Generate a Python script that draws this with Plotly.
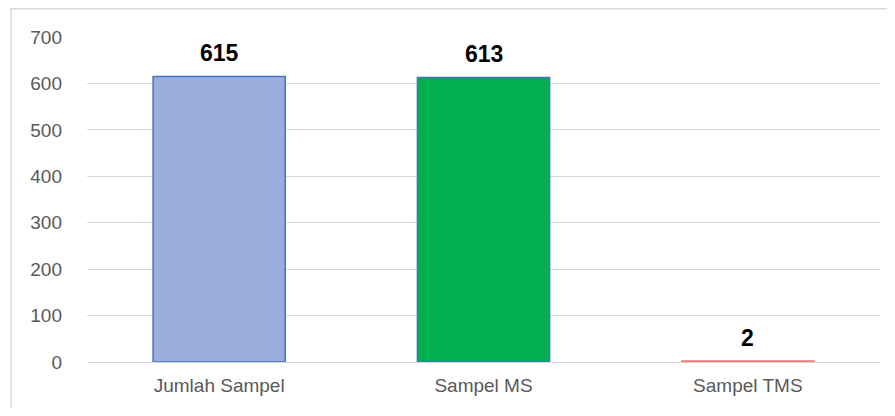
import plotly.graph_objs as go

categories = ['Jumlah Sampel', 'Sampel MS', 'Sampel TMS']
values = [615, 613, 2]
y_ticks = [0, 100, 200, 300, 400, 500, 600, 700]

bar_colors = ['#9aaedd', '#00b050', '#ff7c80']
edge_colors = ['#4472c4', '#4472c4', '#f4777b']

fig = go.Figure(data=[go.Bar(
    x=categories,
    y=values,
    marker=dict(color=bar_colors, line=dict(color=edge_colors, width=1.5)),
    width=0.5,
    hoverinfo='x+y'
)])

# value labels above the bars
for cat, val in zip(categories, values):
    fig.add_annotation(
        x=cat, y=val, text=f'<b>{val}</b>', showarrow=False,
        yanchor='bottom', yshift=8,
        font=dict(size=23, color='#000000', family='Liberation Sans, Arial')
    )

# light frame around the chart (only left/top edges are visible)
fig.add_shape(type='rect', xref='paper', yref='paper',
              x0=-0.0958, x1=1.05, y0=-0.3, y1=1.087,
              line=dict(color='#d9d9d9', width=1.5), layer='below')

# the page body has an 8px margin, so the figure is a bit smaller than the window
fig.update_layout(
    width=879, height=400,
    margin=dict(l=79, r=7, t=29, b=46),
    paper_bgcolor='white',
    plot_bgcolor='white',
    showlegend=False,
    font=dict(family='Liberation Sans, Arial', color='#595959'),
    xaxis=dict(
        showgrid=False, showline=False, ticks='',
        tickfont=dict(size=19, color='#595959'),
        ticklabelstandoff=10
    ),
    yaxis=dict(
        range=[0, 700], tickvals=y_ticks,
        showgrid=True, gridcolor='#d9d9d9', gridwidth=1,
        zeroline=True, zerolinecolor='#d9d9d9', zerolinewidth=1,
        showline=False, ticks='',
        tickfont=dict(size=19, color='#595959'),
        ticklabelstandoff=24
    )
)

fig.write_html("out.html")
